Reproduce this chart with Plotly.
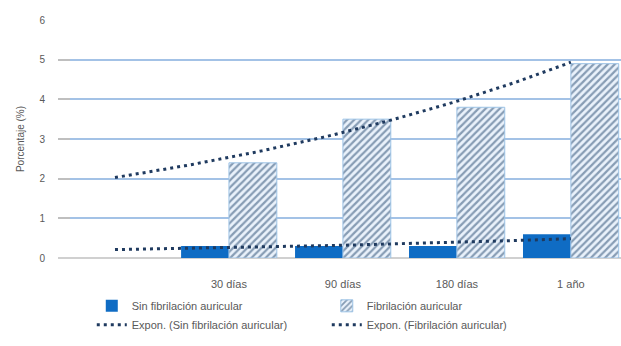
import numpy as np
import plotly.graph_objects as go

# Periods of follow-up (first slot is an empty lead-in category)
categories = ["", "30 días", "90 días", "180 días", "1 año"]
periods = ["30 días", "90 días", "180 días", "1 año"]
sin_fa = [0.3, 0.3, 0.3, 0.6]
con_fa = [2.4, 3.5, 3.8, 4.9]

x_pos = np.arange(1, len(periods) + 1)

def expon_trend(values, x_from=0.0, x_to=4.0, n=60):
    # least-squares fit of ln(y) = ln(a) + b*x, extended one period backwards
    b, ln_a = np.polyfit(x_pos, np.log(values), 1)
    xs = np.linspace(x_from, x_to, n)
    return xs, np.exp(ln_a) * np.exp(b * xs)

GRAY = "#595959"
FONT = "Liberation Sans, Arial, sans-serif"
BLUE = "#0f6cc4"
NAVY = "#1f3a5f"

fig = go.Figure()
fig.add_trace(go.Bar(
    x=x_pos, y=sin_fa, name="Sin fibrilación auricular",
    marker=dict(color=BLUE, line=dict(width=0)),
))
fig.add_trace(go.Bar(
    x=x_pos, y=con_fa, name="Fibrilación auricular",
    marker=dict(color="#eaf2fb", line=dict(color="#9dc3e6", width=1),
                pattern=dict(shape="/", fgcolor="#24476d", bgcolor="#eaf2fb",
                             size=5, solidity=0.45)),
))

xs, ys = expon_trend(sin_fa)
fig.add_trace(go.Scatter(
    x=xs, y=ys, mode="lines", name="Expon. (Sin fibrilación auricular)",
    line=dict(color=NAVY, width=3, dash="3px,4px"),
))
xs, ys = expon_trend(con_fa)
fig.add_trace(go.Scatter(
    x=xs, y=ys, mode="lines", name="Expon. (Fibrilación auricular)",
    line=dict(color=NAVY, width=3, dash="3px,4px"),
))

fig.update_layout(
    width=621, height=346,
    margin=dict(l=58, r=0, t=20, b=88),
    paper_bgcolor="white", plot_bgcolor="white",
    font=dict(family=FONT, color=GRAY, size=11),
    barmode="group", bargap=0.16, bargroupgap=0,
    showlegend=True,
    legend=dict(
        orientation="h", x=0.06, xanchor="left", y=-0.14, yanchor="top",
        entrywidth=190, entrywidthmode="pixels",
        font=dict(family=FONT, color=GRAY, size=11),
        itemwidth=30, traceorder="normal", tracegroupgap=0,
    ),
)
fig.update_xaxes(
    range=[-0.5, 4.44], tickmode="array",
    tickvals=list(range(len(categories))), ticktext=categories,
    showgrid=False, zeroline=False, showline=False, ticks="",
    ticklabelstandoff=18, tickfont=dict(size=11, color=GRAY),
)
fig.update_yaxes(
    range=[0, 6], dtick=1, showgrid=True, gridcolor="#a3c2e6", gridwidth=1.5,
    zeroline=True, zerolinecolor="#d0d0d0", zerolinewidth=1.5,
    ticks="inside", ticklen=12, tickcolor="#bfbfbf", tickwidth=1.5,
    ticklabelstandoff=12, tickfont=dict(size=10, color=GRAY),
    title=dict(text="Porcentaje (%)", font=dict(size=10, color=GRAY), standoff=12),
)

fig.write_html("out.html")
